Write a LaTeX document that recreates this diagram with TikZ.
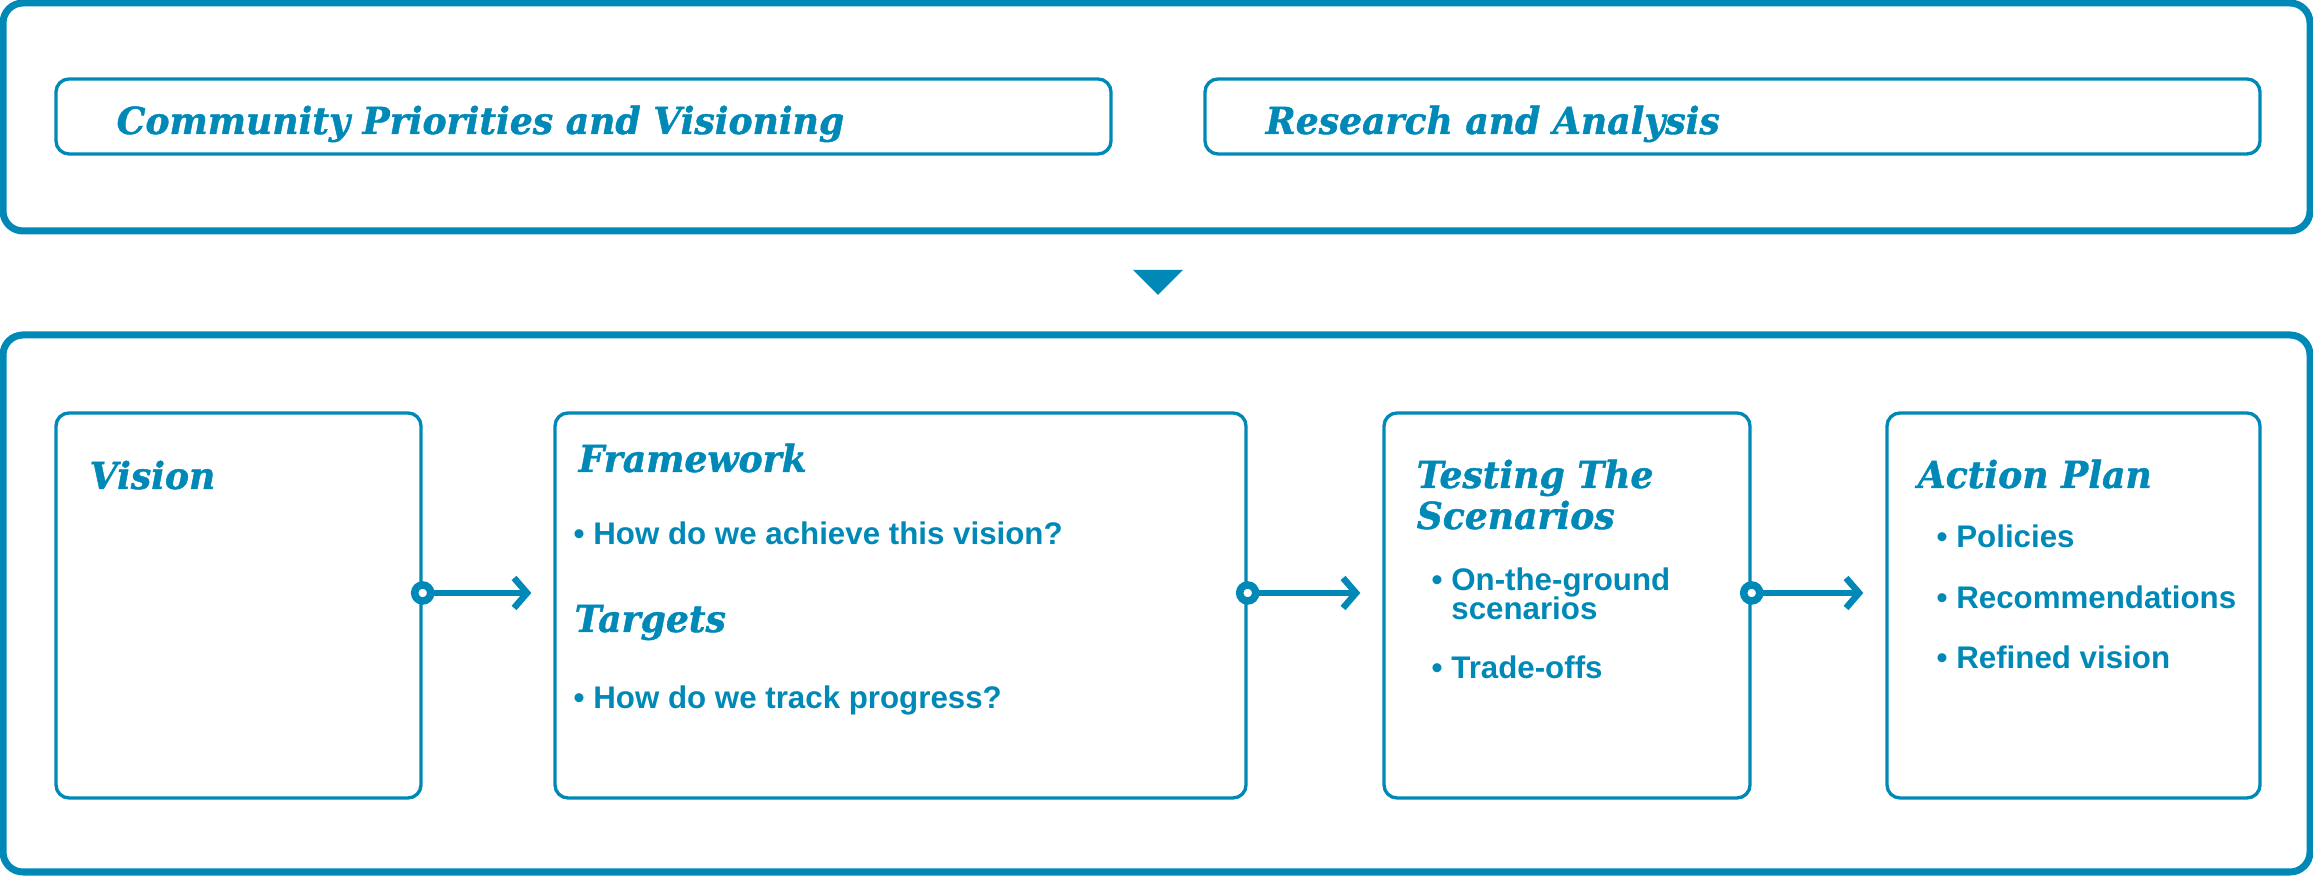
\documentclass[tikz,border=0pt]{standalone}
\usepackage{fontspec}
\usetikzlibrary{arrows.meta}
\newfontfamily\headfont[FakeStretch=0.97, FakeBold=1.2]{DejaVu Serif}
\newfontfamily\itemfont{Liberation Sans}
\definecolor{planblue}{RGB}{0,137,183}
\tikzset{
  outerbox/.style={draw=planblue, line width=2pt, rounded corners=0.2cm, inner sep=0pt},
  stagebox/.style={draw=planblue, line width=0.95pt, rounded corners=0.13cm, inner sep=0pt},
  heading/.style={text=planblue, inner sep=0pt, anchor=base west, font=\headfont\bfseries\itshape\fontsize{10.6}{12}\selectfont},
  item/.style={text=planblue, inner sep=0pt, anchor=base west, font=\itemfont\bfseries\fontsize{8.9}{10}\selectfont},
  ring/.style={circle, draw=planblue, fill=white, line width=0.075cm, minimum size=0.16cm, inner sep=0pt},
  flow/.style={draw=planblue, line width=0.06cm, -{Straight Barb[length=0.13cm,width=0.3cm,line width=0.065cm]}, shorten >=0.22cm},
}
\begin{document}
\begin{tikzpicture}
	\useasboundingbox (0,0) rectangle (23.13,8.76);

	% inputs
	\node[outerbox, minimum width=23.07cm, minimum height=2.28cm] (inputs) at (11.565,7.59) {};
	\node[stagebox, minimum width=10.55cm, minimum height=0.75cm] (community) at (5.835,7.595) {};
	\node[stagebox, minimum width=10.55cm, minimum height=0.75cm] (research) at (17.325,7.595) {};
	\node[heading] (communityt) at (1.16,7.42) {Community Priorities and Visioning};
	\node[heading] (researcht) at (12.65,7.42) {Research and Analysis};

	\fill[planblue] (11.33,6.06) -- (11.83,6.06) -- (11.58,5.81) -- cycle;

	% process
	\node[outerbox, minimum width=23.07cm, minimum height=5.37cm] (process) at (11.565,2.725) {};
	\node[stagebox, minimum width=3.65cm, minimum height=3.85cm] (vision) at (2.385,2.705) {};
	\node[stagebox, minimum width=6.91cm, minimum height=3.85cm] (frame) at (9.005,2.705) {};
	\node[stagebox, minimum width=3.66cm, minimum height=3.85cm] (testing) at (15.67,2.705) {};
	\node[stagebox, minimum width=3.73cm, minimum height=3.85cm] (action) at (20.735,2.705) {};

	\node[heading] (visiont) at (0.89,3.87) {Vision};

	\node[heading] (framet) at (5.78,4.04) {Framework};
	\node[item] (frame1) at (5.73,3.31) {\textbullet\ How do we achieve this vision?};
	\node[heading] (targett) at (5.74,2.44) {Targets};
	\node[item] (target1) at (5.73,1.67) {\textbullet\ How do we track progress?};

	\node[heading] (testingt) at (14.16,3.88) {Testing The};
	\node[heading] (testingu) at (14.16,3.47) {Scenarios};
	\node[item] (testing1) at (14.31,2.85) {\textbullet\ On-the-ground};
	\node[item] (testing2) at (14.31,2.56) {\phantom{\textbullet\ }scenarios};
	\node[item] (testing3) at (14.31,1.97) {\textbullet\ Trade-offs};

	\node[heading] (actiont) at (19.17,3.88) {Action Plan};
	\node[item] (action1) at (19.36,3.28) {\textbullet\ Policies};
	\node[item] (action2) at (19.36,2.67) {\textbullet\ Recommendations};
	\node[item] (action3) at (19.36,2.07) {\textbullet\ Refined vision};

	\node[ring] (r1) at ([yshift=1.25mm]vision.east) {};
	\node[ring] (r2) at ([yshift=1.25mm]frame.east) {};
	\node[ring] (r3) at ([yshift=1.25mm]testing.east) {};

	\draw[flow] (r1) -- (r1 -| frame.west);
	\draw[flow] (r2) -- (r2 -| testing.west);
	\draw[flow] (r3) -- (r3 -| action.west);
\end{tikzpicture}
\end{document}
